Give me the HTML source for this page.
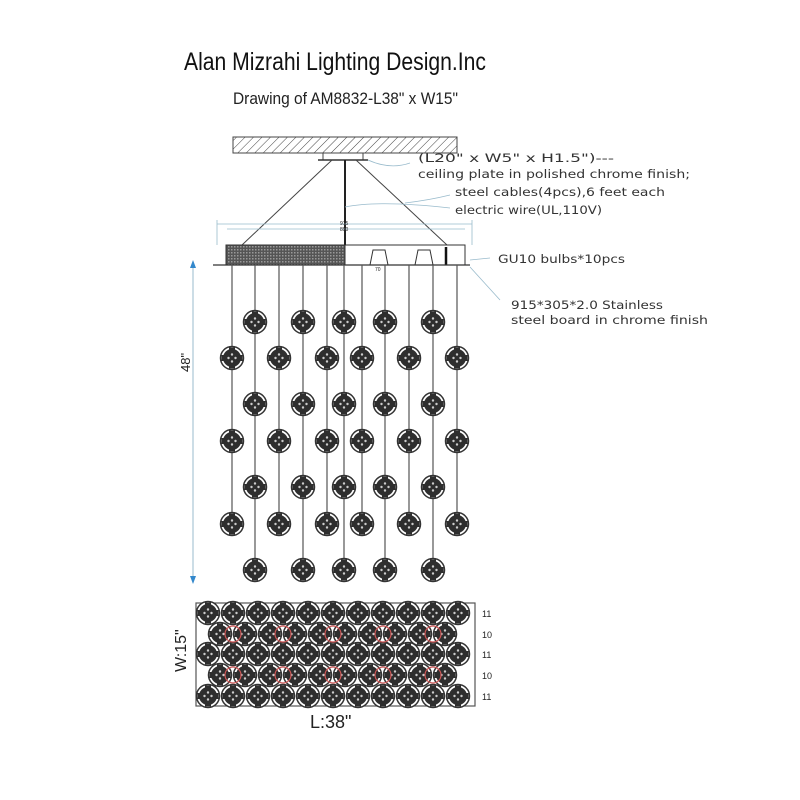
<!DOCTYPE html>
<html><head><meta charset="utf-8"><style>
html,body{margin:0;padding:0;background:#fff;width:800px;height:800px;overflow:hidden}
svg{display:block}
text{font-family:"Liberation Sans",sans-serif;fill:#222}
.m{font-family:"DejaVu Sans","Liberation Sans",sans-serif;fill:#333;font-size:11.5px}
</style></head><body>
<svg id="s" width="800" height="800" viewBox="0 0 800 800" xmlns="http://www.w3.org/2000/svg">
<defs>
<pattern id="h" width="6" height="6" patternUnits="userSpaceOnUse" patternTransform="rotate(45)">
<line x1="0" y1="0" x2="0" y2="6" stroke="#444" stroke-width="1"/></pattern>
<pattern id="d" width="3" height="3" patternUnits="userSpaceOnUse">
<rect width="3" height="3" fill="#555"/><rect width="1.5" height="1.5" fill="#999"/></pattern>
<g id="c">
<circle r="11.5" fill="#fff" stroke="#333" stroke-width="1.5"/>
<circle r="9" fill="#2e2e2e"/>
<rect x="-3" y="-10.5" width="6" height="21" fill="#2e2e2e"/>
<rect x="-10.5" y="-3" width="21" height="6" fill="#2e2e2e"/>
<circle r="1.2" fill="#ccc" cx="-3.5"/><circle r="1.2" fill="#ccc" cx="3.5"/><circle r="1.2" fill="#ccc" cy="-3.5"/><circle r="1.2" fill="#ccc" cy="3.5"/>
</g>
</defs>
<text x="184" y="70" font-size="25" textLength="302" lengthAdjust="spacingAndGlyphs" style="fill:#111">Alan Mizrahi Lighting Design.Inc</text>
<text x="233" y="104" font-size="17" textLength="225" lengthAdjust="spacingAndGlyphs">Drawing of AM8832-L38" x W15"</text>

<rect x="233" y="137" width="224" height="16" fill="url(#h)" stroke="#444" stroke-width="1"/>
<rect x="323" y="153" width="40" height="7" fill="#fff" stroke="#444"/>
<line x1="318" y1="160" x2="368" y2="160" stroke="#333" stroke-width="1.5"/>
<line x1="332" y1="160" x2="242" y2="245" stroke="#444" stroke-width="1"/>
<line x1="356" y1="160" x2="447" y2="245" stroke="#444" stroke-width="1"/>
<line x1="345" y1="160" x2="345" y2="245" stroke="#222" stroke-width="2"/>
<g stroke="#9bc" stroke-width="0.8" fill="none">
<line x1="217" y1="224" x2="472" y2="224"/><line x1="227" y1="229" x2="465" y2="229"/>
<line x1="217" y1="220" x2="217" y2="245"/><line x1="472" y1="220" x2="472" y2="245"/>
<path d="M368 160 Q390 170 410 163"/><path d="M345 207 Q380 200 450 208"/><path d="M405 203 Q430 200 450 195"/>
<path d="M470 260 L490 258"/><path d="M470 267 L500 300"/>
</g>
<text x="340" y="225" font-size="5" fill="#555">915</text>
<text x="340" y="231" font-size="5" fill="#555">890</text>
<rect x="226" y="245" width="119" height="20" fill="url(#d)" stroke="#333"/>
<rect x="345" y="245" width="120" height="20" fill="#fff" stroke="#333"/>
<path d="M370 265 L373 250 L385 250 L388 265" fill="none" stroke="#333"/>
<path d="M415 265 L418 250 L430 250 L433 265" fill="none" stroke="#333"/>
<line x1="446" y1="247" x2="446" y2="265" stroke="#111" stroke-width="2.5"/>
<line x1="213" y1="265" x2="470" y2="265" stroke="#333" stroke-width="1.3"/>
<text x="375" y="271" font-size="5" fill="#555">70</text>

<text class="m" x="418" y="162" textLength="196" lengthAdjust="spacingAndGlyphs">(L20" x W5" x H1.5")---</text>
<text class="m" x="418" y="178" textLength="272" lengthAdjust="spacingAndGlyphs">ceiling plate in polished chrome finish;</text>
<text class="m" x="455" y="196" textLength="210" lengthAdjust="spacingAndGlyphs">steel cables(4pcs),6 feet each</text>
<text class="m" x="455" y="214" textLength="147" lengthAdjust="spacingAndGlyphs">electric wire(UL,110V)</text>
<text class="m" x="498" y="263" textLength="127" lengthAdjust="spacingAndGlyphs">GU10 bulbs*10pcs</text>
<text class="m" x="511" y="309" textLength="152" lengthAdjust="spacingAndGlyphs">915*305*2.0 Stainless</text>
<text class="m" x="511" y="324" textLength="197" lengthAdjust="spacingAndGlyphs">steel board in chrome finish</text>

<line x1="193" y1="263" x2="193" y2="583" stroke="#9bc" stroke-width="1"/>
<path d="M190 268 L193 260 L196 268Z M190 576 L193 584 L196 576Z" fill="#38c"/>
<text x="0" y="0" font-size="13" transform="translate(190,372) rotate(-90)">48"</text>

<g id="strands"></g>

<rect x="196" y="603" width="279" height="103" fill="#fff" stroke="#555" stroke-width="1.2"/>
<g id="grid"></g>
<text x="0" y="0" font-size="16" transform="translate(186,672) rotate(-90)">W:15"</text>
<text x="310" y="728" font-size="18">L:38"</text>
<g font-size="9">
<text x="482" y="617">11</text><text x="482" y="638">10</text><text x="482" y="658">11</text><text x="482" y="679">10</text><text x="482" y="700">11</text>
</g>
</svg>
<script>
var NS="http://www.w3.org/2000/svg";
function el(p,t,a){var e=document.createElementNS(NS,t);for(var k in a)e.setAttribute(k,a[k]);p.appendChild(e);return e;}
var s=document.getElementById("strands");
var A=[255,303,344,385,433],B=[232,279,327,362,409,457];
A.forEach(function(x){el(s,"line",{x1:x,y1:265,x2:x,y2:570,stroke:"#555","stroke-width":1.2});});
B.forEach(function(x){el(s,"line",{x1:x,y1:265,x2:x,y2:524,stroke:"#555","stroke-width":1.2});});
[322,404,487,570].forEach(function(y){A.forEach(function(x){el(s,"use",{href:"#c",x:x,y:y});});});
[358,441,524].forEach(function(y){B.forEach(function(x){el(s,"use",{href:"#c",x:x,y:y});});});
var g=document.getElementById("grid");
[613,634,654,675,696].forEach(function(y,i){
 var n=i%2?10:11,x0=i%2?220:208;
 for(var j=0;j<n;j++){el(g,"use",{href:"#c",x:x0+j*25,y:y});}
});
[634,675].forEach(function(y){[233,283,333,383,433].forEach(function(x){
 el(g,"circle",{cx:x,cy:y,r:8,fill:"none",stroke:"#c55","stroke-width":1.2});});});
</script>
</body></html>
